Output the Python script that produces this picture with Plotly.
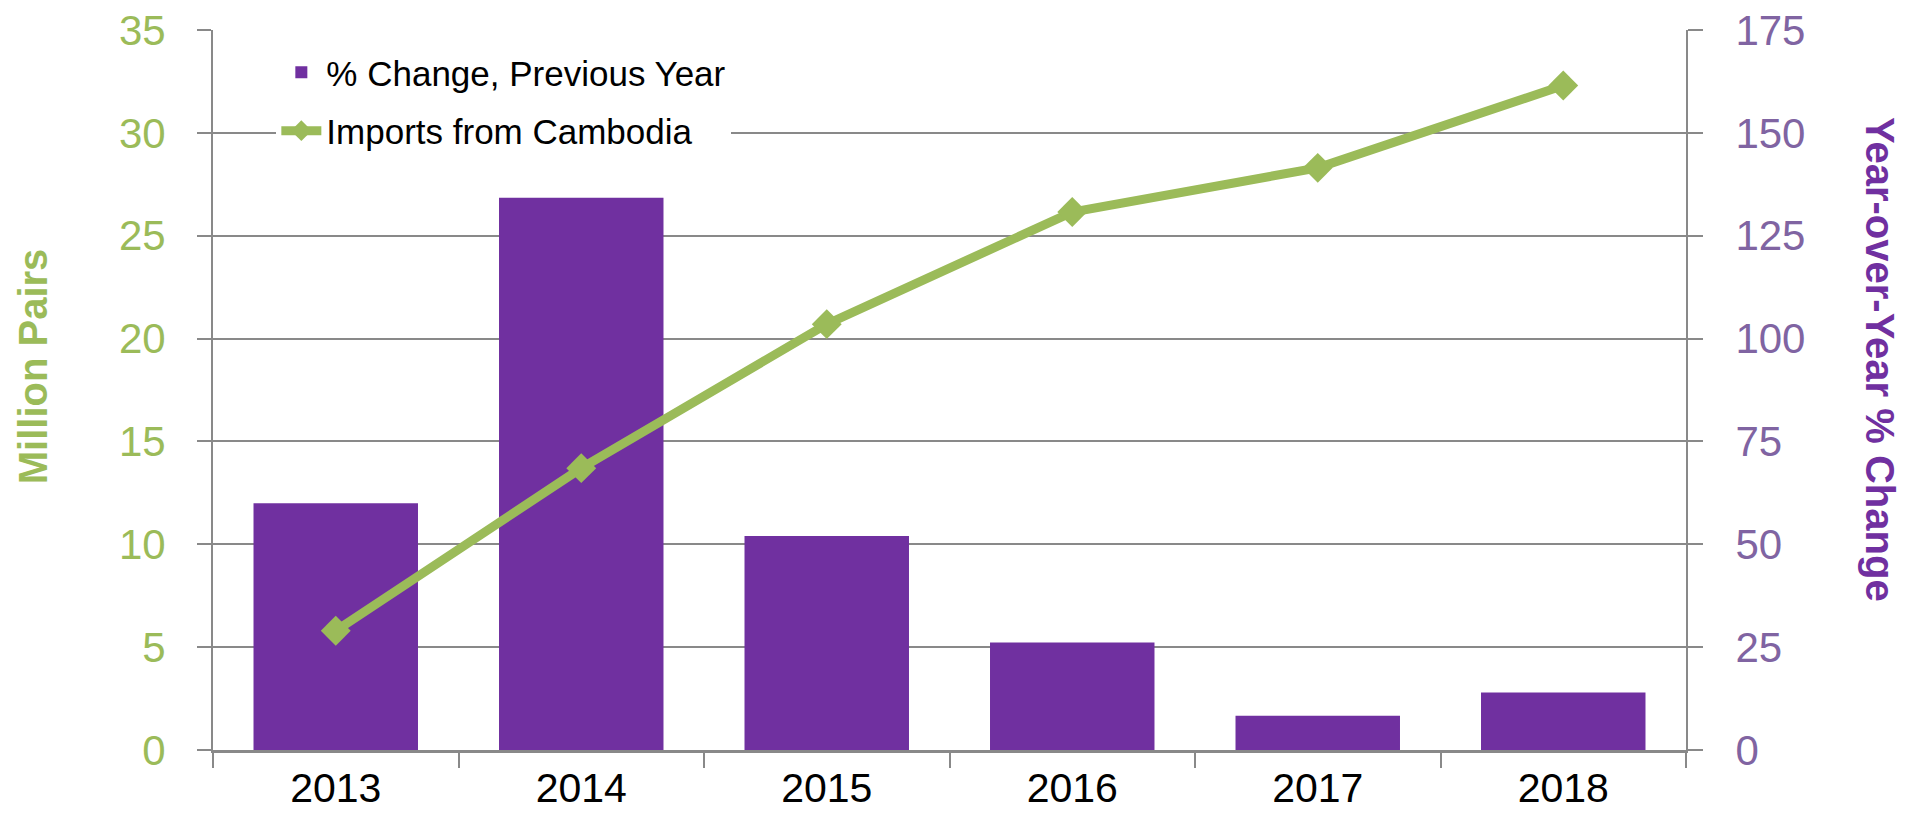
import plotly.graph_objects as go

years = ["2013", "2014", "2015", "2016", "2017", "2018"]
pct_change = [60.0, 134.2, 52.0, 26.1, 8.3, 14.0]
imports = [5.8, 13.7, 20.7, 26.15, 28.3, 32.3]
left_ticks = [0, 5, 10, 15, 20, 25, 30, 35]
right_ticks = [0, 25, 50, 75, 100, 125, 150, 175]

FONT = "Liberation Sans, Arial, sans-serif"
GREEN = "#9BBB59"
PURPLE = "#7030A0"
PURPLE_LIGHT = "#8064A2"
GRAY = "#898989"

fig = go.Figure()
fig.add_trace(go.Bar(
    x=years, y=pct_change, name="% Change, Previous Year",
    marker=dict(color=PURPLE, line=dict(width=0)),
    width=0.67, yaxis="y", legendgroup="a",
))
fig.add_trace(go.Scatter(
    x=years, y=imports, name="Imports from Cambodia",
    mode="lines+markers",
    line=dict(color=GREEN, width=9),
    marker=dict(symbol="diamond", size=23, color=GREEN),
    yaxis="y2", legendgroup="b",
))

fig.update_layout(
    width=1909, height=815,
    margin=dict(l=213, r=223, t=30, b=65),
    paper_bgcolor="white", plot_bgcolor="white",
    showlegend=True,
    legend=dict(
        x=0.043, y=0.982, xanchor="left", yanchor="top",
        bgcolor="white", font=dict(family=FONT, size=35, color="black"),
        itemwidth=40, tracegroupgap=10,
    ),
    xaxis=dict(
        type="category", categoryorder="array", categoryarray=years,
        range=[-0.5, 5.5], automargin=False,
        tickson="boundaries", ticks="outside", ticklen=15, tickwidth=1.5, tickcolor=GRAY,
        showline=True, linecolor=GRAY, linewidth=2.5,
        showgrid=False, zeroline=False,
        tickfont=dict(family=FONT, size=41, color="black"),
    ),
    yaxis=dict(
        side="right", range=[0, 175], tickvals=right_ticks, automargin=False,
        ticks="outside", ticklen=15, tickwidth=1.5, tickcolor=GRAY,
        showline=True, linecolor=GRAY, linewidth=2,
        showgrid=True, gridcolor=GRAY, gridwidth=2, zeroline=False,
        tickfont=dict(family=FONT, size=42, color=PURPLE_LIGHT),
        ticklabelstandoff=24,
    ),
    yaxis2=dict(
        overlaying="y", side="left", range=[0, 35], tickvals=left_ticks, automargin=False,
        ticks="outside", ticklen=14, tickwidth=1.5, tickcolor=GRAY,
        showline=True, linecolor=GRAY, linewidth=2,
        showgrid=False, zeroline=False,
        tickfont=dict(family=FONT, size=42, color=GREEN),
        ticklabelstandoff=23,
    ),
    annotations=[
        dict(text="<b>Million Pairs</b>", xref="paper", yref="paper",
             x=-0.1222, y=0.533, xanchor="center", yanchor="middle",
             textangle=-90, showarrow=False,
             font=dict(family=FONT, size=40, color=GREEN)),
        dict(text="<b>Year-over-Year % Change</b>", xref="paper", yref="paper",
             x=1.1317, y=0.5417, xanchor="center", yanchor="middle",
             textangle=90, showarrow=False,
             font=dict(family=FONT, size=40, color=PURPLE)),
    ],
)

fig.write_html("out.html", config={"displayModeBar": False},
               post_script="document.body.style.margin='0';")
